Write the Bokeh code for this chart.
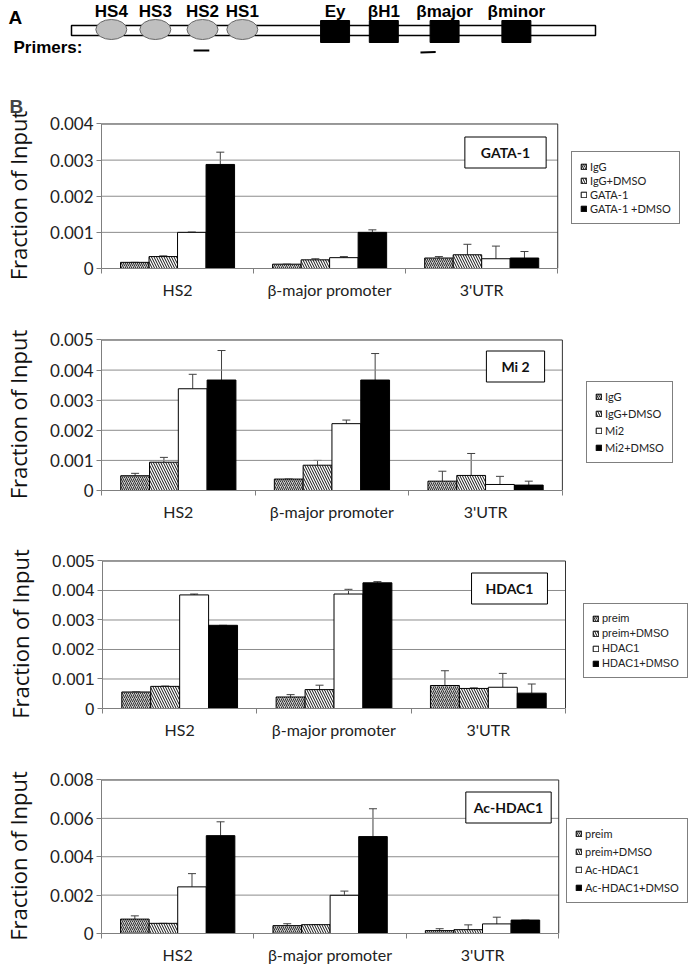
from bokeh.plotting import figure
from bokeh.models import (Range1d, FixedTicker, Whisker, TeeHead, Legend, LegendItem,
                          Label, ColumnDataSource, NumeralTickFormatter)
from bokeh.layouts import column, row
from bokeh.embed import file_html
from bokeh.resources import INLINE
from bokeh.core.properties import value

# ---------------- Panel A: locus schematic (arbitrary locus units, 0..100) ----------------
locus_start, locus_end = 0.0, 100.0
hs_labels = ["HS4", "HS3", "HS2", "HS1"]
hs_pos = [7.6, 16.0, 25.0, 32.6]
gene_labels = ["Ey", "βH1", "βmajor", "βminor"]
gene_pos = [50.3, 59.6, 71.2, 84.9]
primer_start = [23.3, 66.6]
primer_end = [26.3, 69.5]

# ---------------- Panel B: ChIP data ----------------
categories = ["HS2", "β-major promoter", "3'UTR"]

gata_series = ["IgG", "IgG+DMSO", "GATA-1", "GATA-1 +DMSO"]
gata_values = [[0.00017, 0.00012, 0.00029],
               [0.00033, 0.00024, 0.00038],
               [0.00100, 0.00030, 0.00027],
               [0.00288, 0.00100, 0.00029]]
gata_upper = [[0.00017, 0.00012, 0.00033],
              [0.00035, 0.00027, 0.00067],
              [0.00101, 0.00033, 0.00062],
              [0.00322, 0.00107, 0.00047]]
gata_ticks = [0, 0.001, 0.002, 0.003, 0.004]

mi2_series = ["IgG", "IgG+DMSO", "Mi2", "Mi2+DMSO"]
mi2_values = [[0.00049, 0.00038, 0.00031],
              [0.00094, 0.00084, 0.00050],
              [0.00338, 0.00222, 0.00020],
              [0.00367, 0.00367, 0.00018]]
mi2_upper = [[0.00057, 0.00038, 0.00064],
             [0.00110, 0.00100, 0.00123],
             [0.00386, 0.00234, 0.00047],
             [0.00465, 0.00455, 0.00031]]
mi2_ticks = [0, 0.001, 0.002, 0.003, 0.004, 0.005]

hdac_series = ["preim", "preim+DMSO", "HDAC1", "HDAC1+DMSO"]
hdac_values = [[0.00056, 0.00039, 0.00078],
               [0.00075, 0.00064, 0.00068],
               [0.00385, 0.00388, 0.00072],
               [0.00282, 0.00426, 0.00052]]
hdac_upper = [[0.00056, 0.00047, 0.00128],
              [0.00076, 0.00079, 0.00070],
              [0.00388, 0.00404, 0.00119],
              [0.00282, 0.00430, 0.00083]]
hdac_ticks = [0, 0.001, 0.002, 0.003, 0.004, 0.005]

ac_series = ["preim", "preim+DMSO", "Ac-HDAC1", "Ac-HDAC1+DMSO"]
ac_values = [[0.00075, 0.00041, 0.00015],
             [0.00053, 0.00046, 0.00020],
             [0.00243, 0.00199, 0.00050],
             [0.00510, 0.00505, 0.00070]]
ac_upper = [[0.00092, 0.00051, 0.00025],
            [0.00053, 0.00046, 0.00045],
            [0.00312, 0.00221, 0.00085],
            [0.00582, 0.00650, 0.00070]]
ac_ticks = [0, 0.002, 0.004, 0.006, 0.008]

W = 693
FONT = "Lato"

# ---------------- schematic figure ----------------
px_per_unit = 5.24
d = figure(width=W, height=78, output_backend="svg", toolbar_location=None,
           x_range=Range1d((0 - 71) / px_per_unit, (W - 71) / px_per_unit),
           y_range=Range1d(78, 0), min_border=0,
           x_axis_location=None, y_axis_location=None)
d.grid.visible = False
d.outline_line_color = None
d.rect(x=[(locus_start + locus_end) / 2], y=[30], width=[locus_end - locus_start], height=10,
       height_units="screen", fill_color="white", line_color="black", line_width=1.5)
d.ellipse(x=hs_pos, y=[29] * len(hs_pos), width=31, height=20, width_units="screen",
          height_units="screen", fill_color="#bfbfbf", line_color="#666666", line_width=1)
d.rect(x=gene_pos, y=[31] * len(gene_pos), width=29, height=22, width_units="screen",
       height_units="screen", fill_color="black", line_color="black")
d.text(x=hs_pos, y=[11] * 4, text=hs_labels, text_font=value("Liberation Sans"),
       text_font_style="bold", text_font_size="17px", text_align="center", text_baseline="middle")
d.text(x=gene_pos, y=[11] * 4, text=gene_labels, text_font=value("Liberation Sans"),
       text_font_style="bold", text_font_size="17px", text_align="center", text_baseline="middle")
d.segment(x0=primer_start, x1=primer_end, y0=[50, 52], y1=[50, 51.5], line_color="black", line_width=2)
d.text(x=[(13 - 71) / px_per_unit], y=[47], text=["Primers:"], text_font=value("Liberation Sans"),
       text_font_style="bold", text_font_size="17px", text_align="left", text_baseline="middle")
d.text(x=[(8 - 71) / px_per_unit], y=[17], text=["A"], text_font=value("Liberation Sans"),
       text_font_style="bold", text_font_size="19px", text_align="left", text_baseline="middle")

BAR_W = 0.1875
styles = [
    dict(fill_color="#c8c8c8", hatch_pattern="/", hatch_color="#333333", hatch_scale=4, hatch_weight=1),
    dict(fill_color="white", hatch_pattern="\\", hatch_color="#111111", hatch_scale=5, hatch_weight=1),
    dict(fill_color="white"),
    dict(fill_color="black"),
]


def panel(series, values, upper, ticks, tag, fig_h, top, frame_h, f_left, f_right,
          leg_xy, leg_spacing, tag_xy, tag_pad, leg_font, tick_font, panel_letter=None):
    n = len(categories)
    ymax = ticks[-1]
    x_end = n * (W - f_left) / (f_right - f_left)
    y_end = ymax * (1 + 1.5 / frame_h)
    p = figure(width=W, height=fig_h, output_backend="svg", toolbar_location=None,
               x_range=Range1d(0, x_end), y_range=Range1d(0, y_end),
               min_border_left=f_left, min_border_right=0,
               min_border_top=top, min_border_bottom=fig_h - top - frame_h)
    p.grid.visible = False
    p.outline_line_color = None

    # plot-area gridlines and border (Excel style)
    p.segment(x0=[0] * (len(ticks) - 2), x1=[n] * (len(ticks) - 2), y0=ticks[1:-1], y1=ticks[1:-1],
              line_color="#8c8c8c", line_width=1)
    p.segment(x0=[0, n], x1=[n, n], y0=[ymax, 0], y1=[ymax, ymax], line_color="#333333", line_width=1)

    renderers = []
    for j, (name, vals, ups) in enumerate(zip(series, values, upper)):
        xs = [i + 0.5 + (j - 1.5) * BAR_W for i in range(n)]
        src = ColumnDataSource(dict(x=xs, top=vals, upper=ups))
        r = p.vbar(x="x", top="top", bottom=0, width=BAR_W, source=src,
                   line_color="black", line_width=1, **styles[j])
        renderers.append(r)
        p.add_layout(Whisker(source=src, base="x", lower="top", upper="upper",
                             dimension="height", line_color="#404040", line_width=1,
                             lower_head=None,
                             upper_head=TeeHead(size=8, line_color="#404040", line_width=1)))

    xa = p.xaxis[0]
    xa.bounds = (0, n)
    xa.ticker = FixedTicker(ticks=[i + 0.5 for i in range(n)], minor_ticks=list(range(n + 1)))
    xa.major_label_overrides = {i + 0.5: c for i, c in enumerate(categories)}
    xa.major_tick_line_color = None
    xa.major_tick_out = 5
    xa.major_tick_in = 0
    xa.minor_tick_out = 5
    xa.minor_tick_in = 0
    xa.minor_tick_line_color = "#7f7f7f"
    xa.axis_line_color = "#7f7f7f"
    xa.major_label_standoff = 6
    xa.major_label_text_font = FONT
    xa.major_label_text_font_size = "16px"
    xa.major_label_text_color = "#222222"

    ya = p.yaxis[0]
    ya.bounds = (0, ymax)
    ya.ticker = FixedTicker(ticks=ticks)
    ya.formatter = NumeralTickFormatter(format="0.000")
    ya.major_label_overrides = {0: "0"}
    ya.minor_tick_line_color = None
    ya.major_tick_out = 5
    ya.major_tick_in = 0
    ya.major_tick_line_color = "#7f7f7f"
    ya.axis_line_color = "#7f7f7f"
    ya.major_label_standoff = 3
    ya.major_label_text_font = tick_font
    ya.major_label_text_font_size = "17px"
    ya.major_label_text_color = "#222222"
    ya.axis_label = "Fraction of Input"
    ya.axis_label_text_font = "Open Sans"
    ya.axis_label_text_font_style = "normal"
    ya.axis_label_text_font_size = "22px"
    ya.axis_label_standoff = 14
    ya.axis_label_text_color = "#111111"

    leg = Legend(items=[LegendItem(label=s, renderers=[r]) for s, r in zip(series, renderers)],
                 location=leg_xy, border_line_color="black", border_line_width=1,
                 background_fill_color="white", background_fill_alpha=1.0,
                 padding=8, spacing=leg_spacing, margin=0, glyph_width=7, glyph_height=7,
                 label_standoff=3, label_height=10, label_text_font=leg_font,
                 label_text_font_size="11px", label_text_color="#222222")
    p.add_layout(leg)

    p.add_layout(Label(x=tag_xy[0], y=tag_xy[1], x_units="screen", y_units="screen", text=tag,
                       text_align="center", text_baseline="middle", text_font=FONT,
                       text_font_style="bold", text_font_size="14px", text_color="#111111",
                       background_fill_color="white", border_line_color="black",
                       border_line_width=1,
                       padding=dict(left=tag_pad, right=tag_pad, top=7, bottom=7)))
    if panel_letter:
        p.title.text = panel_letter
        p.title.align = "left"
        p.title.offset = -(f_left - 8)
        p.title.text_font = "Liberation Sans"
        p.title.text_font_style = "bold"
        p.title.text_font_size = "19px"
        p.title.standoff = 12
    return p


p1 = panel(gata_series, gata_values, gata_upper, gata_ticks, "GATA-1", 232, 44, 146, 100, 557,
           (470, 44), 1, (404, 116), 16, FONT, FONT, panel_letter="B")
p2 = panel(mi2_series, mi2_values, mi2_upper, mi2_ticks, "Mi 2", 220, 28, 152, 97, 561,
           (485, 27), 4, (414, 124), 15, FONT, FONT)
p3 = panel(hdac_series, hdac_values, hdac_upper, hdac_ticks, "HDAC1", 220, 29, 149, 102, 565,
           (481, 30), 3, (407, 120), 14, "Liberation Sans", "Liberation Sans")
p4 = panel(ac_series, ac_values, ac_upper, ac_ticks, "Ac-HDAC1", 216, 28, 156, 100, 558,
           (465, 30), 5, (407, 126), 8, FONT, FONT)

layout = column(row(d), row(p1), row(p2), row(p3), row(p4), spacing=0)
open("out.html", "w").write(file_html(layout, INLINE))
